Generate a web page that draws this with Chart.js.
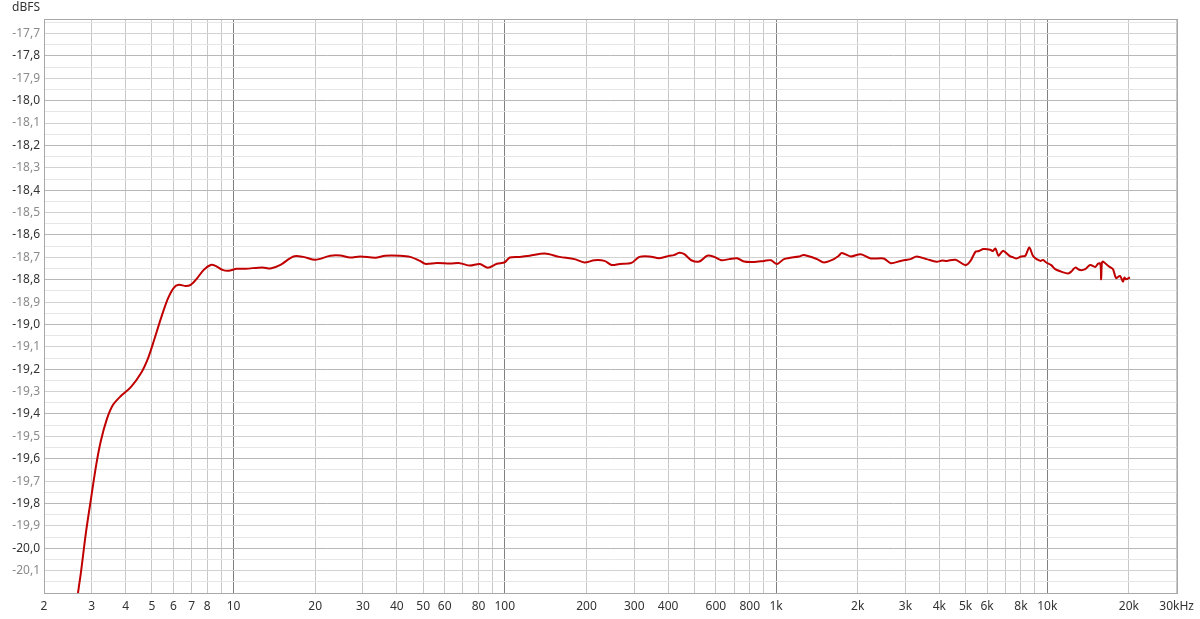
<!DOCTYPE html>
<html>
<head>
<meta charset="utf-8">
<script src="https://cdn.jsdelivr.net/npm/chart.js@4"></script>
<style>
  body { margin: 0; background: #fff; }
  #wrap { width: 1200px; height: 619px; position: relative; }
</style>
</head>
<body>
<div id="wrap"><canvas id="graph"></canvas></div>
<script>
//frequency points (Hz)
var freqHz = [2.6, 2.67, 2.74, 2.86, 2.98, 3.11, 3.24, 3.41, 3.59, 3.84, 4.18, 4.56, 4.84, 5.08, 5.39, 5.72,
  6.02, 6.28, 6.66, 6.95, 7.31, 7.76, 8.23, 8.58, 9.11, 9.58, 10.26, 11.07, 12.78, 13.68, 14.89, 16.62,
  18.09, 20.02, 22.74, 24.74, 26.9, 29.3, 33.3, 36.2, 41.1, 44.7, 48.7, 50.8, 56.2, 62.8, 68.3, 74.3,
  80.9, 86.6, 93.5, 100, 104.3, 113.5, 123.6, 140.3, 159.2, 180.7, 196.6, 214.1, 233.1, 247.4, 264.7,
  293, 313.5, 341.2, 371.5, 404.3, 420, 440, 459, 487, 521, 557.5, 591.6, 628, 671.6, 718, 762, 829, 903,
  958.6, 1008.6, 1070, 1215, 1268, 1416, 1502, 1634, 1700, 1748, 1887, 2053, 2234, 2494, 2647, 2882, 3000, 3135,
  3300, 3590, 3908, 4100, 4253, 4590, 4995, 5212, 5437, 5600, 5817, 6166, 6300, 6439, 6607, 6750, 6890, 7311, 7500, 7691, 8020, 8300,
  8586, 8881, 9421, 9650, 9910, 10345, 10700, 11260, 11940, 12300, 12670, 13220, 13800, 14390, 15020, 15400, 15700,
  15800, 15900, 16070, 16760, 17100, 17480, 17940, 18540, 19010, 19250, 19500, 20180];

//level (dBFS) at each frequency
var levelDb = [-20.32, -20.2, -20.103, -19.924, -19.78, -19.633, -19.521, -19.423, -19.36, -19.32, -19.28, -19.217, -19.15, -19.074, -18.975, -18.886,
  -18.836, -18.823, -18.828, -18.823, -18.796, -18.756, -18.734, -18.738, -18.756, -18.76, -18.751, -18.751, -18.745, -18.75, -18.734, -18.696,
  -18.698, -18.711, -18.693, -18.692, -18.701, -18.696, -18.702, -18.693, -18.693, -18.698, -18.716, -18.729, -18.725, -18.728, -18.726, -18.737,
  -18.73, -18.747, -18.729, -18.722, -18.701, -18.698, -18.693, -18.683, -18.698, -18.708, -18.723, -18.713, -18.716, -18.734, -18.73,
  -18.725, -18.698, -18.696, -18.704, -18.693, -18.69, -18.68, -18.686, -18.713, -18.719, -18.693, -18.698, -18.713, -18.708, -18.704, -18.719, -18.721, -18.716,
  -18.713, -18.73, -18.708, -18.696, -18.69, -18.708, -18.723, -18.708, -18.694, -18.681, -18.696, -18.686, -18.705, -18.705, -18.726, -18.716, -18.712, -18.708,
  -18.696, -18.708, -18.72, -18.714, -18.716, -18.711, -18.735, -18.716, -18.675, -18.672, -18.663, -18.666, -18.672, -18.661, -18.693, -18.68, -18.671, -18.696, -18.7, -18.705, -18.696, -18.693,
  -18.656, -18.696, -18.716, -18.712, -18.723, -18.735, -18.753, -18.764, -18.772, -18.762, -18.746, -18.757, -18.753, -18.734, -18.743, -18.728, -18.728,
  -18.798, -18.725, -18.719, -18.738, -18.745, -18.753, -18.793, -18.783, -18.808, -18.79, -18.798, -18.79];

//vertical grid lines and their labels ('' = line only)
var xGrid = [2, 3, 4, 5, 6, 7, 8, 9, 10, 20, 30, 40, 50, 60, 70, 80, 90, 100, 200, 300, 400, 500, 600, 700, 800, 900,
  1000, 2000, 3000, 4000, 5000, 6000, 7000, 8000, 9000, 10000, 20000, 30000];
var xLabels = ['2', '3', '4', '5', '6', '7', '8', '', '10', '20', '30', '40', '50', '60', '', '80', '', '100', '200', '300', '400', '', '600', '', '800', '',
  '1k', '2k', '3k', '4k', '5k', '6k', '', '8k', '', '10k', '20k', '30kHz'];

//y range, grid step, lowest labelled value
var yMin = -20.2;
var yMax = -17.635;
var yStep = 0.05;
var yLowestLabel = -20.1;

var points = [];
for (var i = 0; i < freqHz.length; i++) {
    points.push({ x: freqHz[i], y: levelDb[i] });
}

function isDecade(v) {
    var l = Math.log10(v);
    return Math.abs(l - Math.round(l)) < 1e-9;
}

//label "dBFS" + frame round plot area
const framePlugin = {
    id: 'frame',
    afterDraw(chart) {
        const c = chart.ctx;
        const a = chart.chartArea;
        c.save();
        c.strokeStyle = '#a8a8a8';
        c.lineWidth = 1;
        c.strokeRect(Math.round(a.left) + 0.5, Math.round(a.top) + 0.5, Math.round(a.right - a.left), Math.round(a.bottom - a.top));
        c.fillStyle = '#333';
        c.font = '12px "Noto Sans"';
        c.textBaseline = 'middle';
        c.fillText('dBFS', 12, 8);
        c.restore();
    }
};

const ctx = document.getElementById('graph');

new Chart(ctx, {
    type: 'line',
    data: {
        datasets: [{
            data: points,
            borderColor: '#c00000',
            borderWidth: 2,
            pointRadius: 0,
            tension: 0.3,
            fill: false
        }]
    },
    options: {
        responsive: true,
        maintainAspectRatio: false,
        animation: false,
        events: [],
        layout: { padding: { top: 19, right: 20, left: 0, bottom: 0 } },
        plugins: {
            legend: { display: false },
            tooltip: { enabled: false }
        },
        scales: {
            x: {
                type: 'logarithmic',
                min: 2,
                max: 30000,
                afterBuildTicks: function (scale) {
                    scale.ticks = xGrid.map(function (v) { return { value: v }; });
                },
                afterFit: function (scale) { scale.height = 26; },
                ticks: {
                    autoSkip: false,
                    maxRotation: 0,
                    padding: 6,
                    color: '#333',
                    font: { family: 'Noto Sans', size: 12 },
                    callback: function (value, index) { return xLabels[index]; }
                },
                grid: {
                    drawTicks: false,
                    color: function (c) { return c.tick && isDecade(c.tick.value) ? '#808080' : '#c8c8c8'; }
                },
                border: { display: false }
            },
            y: {
                type: 'linear',
                min: yMin,
                max: yMax,
                afterBuildTicks: function (scale) {
                    var t = [];
                    for (var k = Math.ceil(yMin / yStep - 1e-6); k * yStep <= yMax + 1e-9; k++) {
                        t.push({ value: Math.round(k * yStep * 100) / 100 });
                    }
                    scale.ticks = t;
                },
                afterFit: function (scale) { scale.width = 44; },
                ticks: {
                    autoSkip: false,
                    padding: 4,
                    font: { family: 'Noto Sans', size: 12 },
                    color: function (c) {
                        var n = Math.round(Math.abs(c.tick.value) * 10);
                        return n % 2 == 0 ? '#333' : '#8a8a8a';
                    },
                    callback: function (value) {
                        var n = Math.round(value * 100);
                        if (n % 10 != 0 || value < yLowestLabel - 0.01) return '';
                        return value.toFixed(1).replace('.', ',');
                    }
                },
                grid: {
                    drawTicks: false,
                    color: function (c) {
                        var n = Math.round(Math.abs(c.tick.value) * 100);
                        if (n % 10 != 0) return '#e6e6e6';
                        return n % 20 == 0 ? '#b8b8b8' : '#d2d2d2';
                    }
                },
                border: { display: false }
            }
        }
    },
    plugins: [framePlugin]
});
</script>
</body>
</html>
